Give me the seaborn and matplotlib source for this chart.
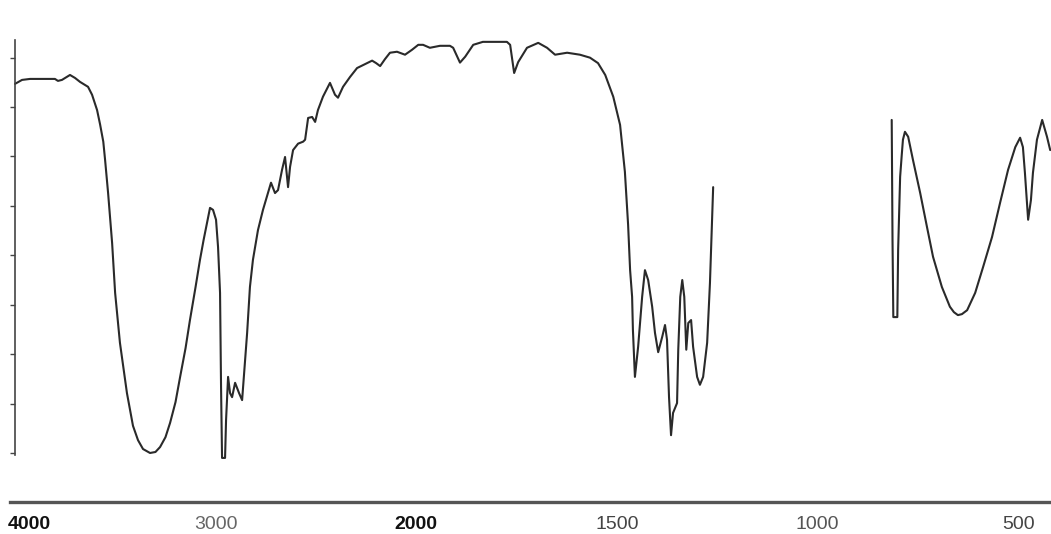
import numpy as np
import matplotlib
matplotlib.use("Agg")
import matplotlib.pyplot as plt
import matplotlib.transforms as mtransforms
import seaborn as sns

# IR spectrum, wavenumber (cm-1) vs transmittance
wn_high = [4000, 3965, 3925, 3875, 3801, 3786, 3766, 3726, 3701, 3676, 3636, 3616,
           3591, 3576, 3560, 3551, 3536, 3516, 3501, 3477, 3442, 3412, 3387, 3362,
           3327, 3300, 3277, 3250, 3227, 3200, 3177, 3150, 3128, 3100, 3078, 3060,
           3043, 3028, 3013, 2998, 2988, 2978, 2973, 2968,
           2953, 2948, 2938, 2928, 2918, 2903, 2883, 2868, 2858, 2843, 2829, 2814,
           2789, 2764, 2739, 2724, 2704, 2689, 2669, 2654, 2639, 2629, 2614, 2589,
           2564, 2554, 2539, 2519, 2504, 2490, 2465, 2430, 2405, 2390, 2365, 2330,
           2295, 2265, 2220, 2200, 2180, 2156, 2131, 2096, 2056, 2021, 1995, 1983,
           1966, 1941, 1916, 1908, 1891, 1878, 1858, 1834, 1774, 1766, 1756, 1746,
           1724, 1696, 1674, 1654, 1624, 1592, 1567, 1547, 1529, 1509, 1492, 1480,
           1472, 1467, 1462, 1460, 1455, 1447, 1437, 1430, 1422, 1412, 1405, 1397,
           1387, 1380, 1375, 1370, 1365, 1360, 1350, 1347, 1342, 1337, 1332, 1327,
           1322, 1315, 1310, 1300, 1293, 1285, 1275, 1268, 1260]
t_high = [74.7, 75.5, 75.7, 75.7, 75.7, 75.3, 75.5, 76.5, 75.9, 75.1, 74.1, 72.5,
          69.4, 66.5, 63.0, 59.3, 52.6, 42.5, 32.4, 22.3, 12.1, 5.5, 2.6, 0.8,
          0.0, 0.2, 1.2, 3.2, 6.1, 10.3, 15.4, 21.2, 26.9, 33.6, 39.1, 43.1,
          46.6, 49.6, 49.2, 47.2, 41.7, 32.4, 13.4, -1.0,
          -1.0, 6.7, 15.4, 12.1, 11.3, 14.2, 12.1, 10.7, 16.2, 24.3, 33.6, 39.1,
          45.1, 49.2, 52.6, 54.7, 52.6, 53.2, 57.3, 59.9, 53.8, 57.9, 61.3, 62.6,
          63.0, 63.4, 67.8, 68.0, 67.0, 69.4, 72.1, 74.9, 72.5, 71.9, 74.1, 76.1,
          77.9, 78.5, 79.4, 78.9, 78.3, 79.7, 81.0, 81.2, 80.6, 81.6, 82.6, 82.6,
          82.0, 82.4, 82.4, 82.0, 79.0, 80.2, 82.6, 83.2, 83.2, 82.6, 76.9, 79.1,
          82.0, 83.0, 82.0, 80.6, 81.0, 80.6, 80.0, 78.9, 76.5, 72.1, 66.4, 56.9,
          46.2, 37.0, 31.6, 24.9, 15.4, 21.5, 31.6, 37.0, 35.0, 29.6, 24.3, 20.4,
          23.5, 25.9, 22.9, 11.3, 3.6, 8.1, 10.1, 20.9, 31.6, 35.0, 31.6, 20.9,
          26.3, 26.9, 21.5, 15.4, 13.8, 15.4, 22.3, 34.4, 53.8]

wn_low = [815, 813, 811, 801, 799, 794, 790, 787, 782, 774, 762, 744, 727, 712, 690,
          670, 660, 650, 640, 627, 607, 587, 565, 545, 525, 507, 495, 488, 483, 475,
          468, 463, 453, 440, 428, 420]
t_low = [67.4, 43.1, 27.5, 27.5, 41.1, 55.9, 60.3, 63.4, 65.0, 64.0, 59.3, 52.6,
         45.7, 39.7, 33.6, 29.6, 28.5, 27.9, 28.1, 28.9, 32.4, 37.7, 43.7, 50.6,
         57.3, 61.9, 63.8, 61.9, 56.7, 47.2, 51.2, 56.7, 63.4, 67.4, 64.0, 61.3]

tick_values = [4000, 3000, 2000, 1500, 1000, 500]
tick_labels = ["4000", "3000", "2000", "1500", "1000", "500"]
tick_colors = ["#111111", "#666666", "#111111", "#444444", "#555555", "#444444"]


# scale doubles below 2000 cm-1, like the instrument chart
def fwd(w):
    w = np.asarray(w, dtype=float)
    return np.where(w >= 2000, w, 2 * w - 2000)


def inv(v):
    v = np.asarray(v, dtype=float)
    return np.where(v >= 2000, v, (v + 2000) / 2)


sns.set_style("white")
plt.rcParams["font.family"] = ["Liberation Sans Narrow", "Liberation Sans", "DejaVu Sans"]

W, H = 1051, 534
fig = plt.figure(figsize=(W / 100, H / 100), dpi=100)
ax = fig.add_axes([10 / W, (H - 502) / H, 1041 / W, (502 - 30) / H])
ax.set_xscale("function", functions=(fwd, inv))

line_kw = dict(color="#2a2a2a", lw=1.5, sort=False, estimator=None)
sns.lineplot(x=wn_high, y=t_high, ax=ax, **line_kw)
sns.lineplot(x=wn_low, y=t_low, ax=ax, **line_kw)

ax.set_xlim(4025, 418)
ax.set_ylim(-9.92, 85.6)

for side in ["top", "right"]:
    ax.spines[side].set_visible(False)
ax.spines["left"].set_position(("data", 4000))
ax.spines["left"].set_bounds(-0.4, 83.6)
ax.spines["left"].set_color("#444444")
ax.spines["left"].set_linewidth(1.2)
ax.spines["bottom"].set_color("#555555")
ax.spines["bottom"].set_linewidth(2.4)

ax.set_yticks(range(0, 90, 10))
ax.set_yticklabels([])
ax.tick_params(axis="y", direction="out", length=3.5, width=1.0, color="#444444", left=True)

ax.set_xticks(tick_values)
ax.set_xticklabels(tick_labels)
ax.tick_params(axis="x", length=0, pad=10, labelsize=14)
for lab, c in zip(ax.get_xticklabels(), tick_colors):
    lab.set_color(c)
first = ax.get_xticklabels()[0]
first.set_horizontalalignment("left")
first.set_fontweight("bold")
first.set_transform(first.get_transform() + mtransforms.ScaledTranslation(-7 / 100, 0, fig.dpi_scale_trans))
ax.get_xticklabels()[2].set_fontweight("bold")

ax.set_xlabel("")
ax.set_ylabel("")
fig.savefig("out.png", dpi=100, facecolor="white")
